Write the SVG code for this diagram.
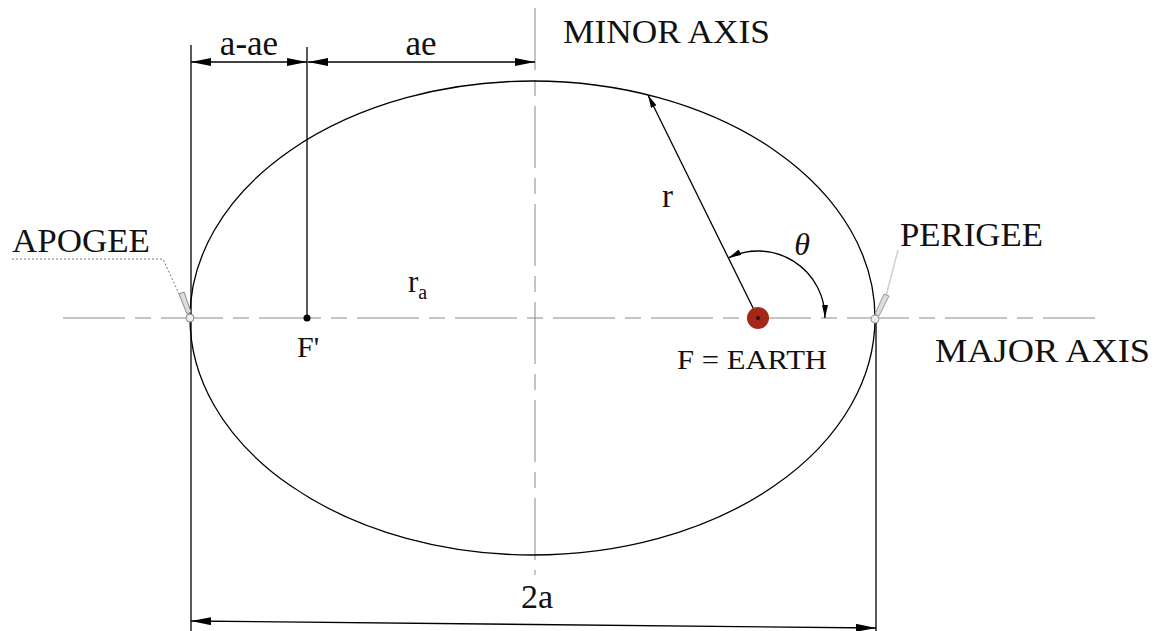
<svg xmlns="http://www.w3.org/2000/svg" width="1159" height="631" viewBox="0 0 1159 631">
<defs>
<marker id="dimArrow" viewBox="0 0 20 8" refX="20" refY="4" markerWidth="20" markerHeight="8" markerUnits="userSpaceOnUse" orient="auto-start-reverse">
<path d="M0,0 L20,4 L0,8 Z" fill="#000"/>
</marker>
<marker id="smallArrow" viewBox="0 0 13 6" refX="13" refY="3" markerWidth="13" markerHeight="6" markerUnits="userSpaceOnUse" orient="auto-start-reverse">
<path d="M0,0 L13,3 L0,6 Z" fill="#000"/>
</marker>
</defs>
<style>
.lbl{font-family:"Liberation Serif","Times New Roman",serif;fill:#111;}
.big{font-size:33px;}
.line{stroke:#000;stroke-width:1.3;fill:none;}
.axis{stroke:#8a8a8a;stroke-width:1;stroke-dasharray:62 10 16 10;fill:none;}
.leader{stroke:#777;stroke-width:1;stroke-dasharray:2 2;fill:none;}
</style>
<rect width="1159" height="631" fill="#fff"/>

<g id="axes">
<path class="axis" d="M63,318 L1095,318"/>
<path class="axis" d="M535,8 L535,575"/>
</g>

<g id="orbit">
<ellipse cx="532.5" cy="318" rx="342.5" ry="237" class="line" stroke-width="1.2"/>
</g>

<g id="connectors">
<path class="line" d="M191,45 L191,631"/>
<path class="line" d="M307,47 L307,318"/>
<path class="line" d="M876,318 L876,631"/>
<path class="line" d="M191,62 L307,62" marker-start="url(#dimArrow)" marker-end="url(#dimArrow)"/>
<path class="line" d="M308,62 L535,62" marker-start="url(#dimArrow)" marker-end="url(#dimArrow)"/>
<path class="line" d="M191,621 L876,628" marker-start="url(#dimArrow)" marker-end="url(#dimArrow)"/>
<path class="line" d="M758,318 L648,95" marker-end="url(#smallArrow)"/>
<path class="line" d="M728.4,257.9 A67,67 0 0 1 825,318" marker-start="url(#smallArrow)" marker-end="url(#smallArrow)"/>
</g>

<g id="apogee">
<path class="leader" d="M12,259 L163,259 L180,296"/>
<path d="M179,294 L184,292 L191,312 L187,314 Z" fill="#ddd" stroke="#888" stroke-width="1"/>
<circle cx="190" cy="318" r="4" fill="#eee" stroke="#888" stroke-width="1"/>
<text class="lbl big" x="12" y="252" textLength="138" lengthAdjust="spacingAndGlyphs">APOGEE</text>
</g>

<g id="perigee">
<path d="M898,250 L886,296" stroke="#d0d0d0" stroke-width="1.5" fill="none"/>
<path d="M884,294 L889,296 L879,316 L875,314 Z" fill="#ddd" stroke="#999" stroke-width="1"/>
<circle cx="875" cy="319" r="4" fill="#eee" stroke="#999" stroke-width="1"/>
<text class="lbl big" x="900" y="246" textLength="143" lengthAdjust="spacingAndGlyphs">PERIGEE</text>
</g>

<g id="focus-empty">
<circle cx="307" cy="318" r="3.5" fill="#000"/>
<text class="lbl" x="297" y="357" font-size="30">F'</text>
</g>

<g id="earth">
<circle cx="758" cy="318" r="11" fill="#a3281a"/>
<circle cx="758" cy="318" r="2" fill="#3a0a05"/>
<text class="lbl" x="677" y="369" font-size="28" textLength="150" lengthAdjust="spacingAndGlyphs">F = EARTH</text>
</g>

<g id="labels">
<text class="lbl big" x="563" y="43" textLength="207" lengthAdjust="spacingAndGlyphs">MINOR AXIS</text>
<text class="lbl big" x="935" y="362" textLength="215" lengthAdjust="spacingAndGlyphs">MAJOR AXIS</text>
<text class="lbl" x="249" y="55" font-size="35" text-anchor="middle">a-ae</text>
<text class="lbl" x="421" y="55" font-size="35" text-anchor="middle">ae</text>
<text class="lbl" x="537" y="608" font-size="34" text-anchor="middle">2a</text>
<text class="lbl" x="662" y="207" font-size="33">r</text>
<text class="lbl" x="408" y="292" font-size="31">r<tspan font-size="20" dy="7">a</tspan></text>
<text class="lbl" x="802" y="255" font-size="32" font-style="italic" text-anchor="middle">θ</text>
</g>
</svg>
